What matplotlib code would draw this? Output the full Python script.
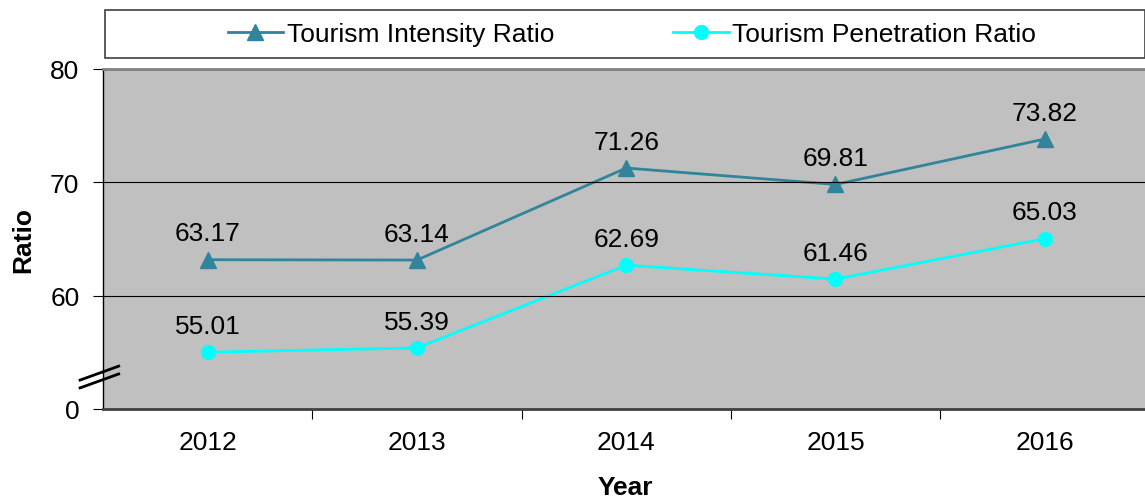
import matplotlib
matplotlib.use("Agg")
import matplotlib.pyplot as plt
from matplotlib.patches import Rectangle

plt.rcParams['font.family'] = ['Liberation Sans', 'DejaVu Sans']

years = ["2012", "2013", "2014", "2015", "2016"]
intensity = [63.17, 63.14, 71.26, 69.81, 73.82]
penetration = [55.01, 55.39, 62.69, 61.46, 65.03]
ytick_vals = [50, 60, 70, 80]
ytick_labels = ["0", "60", "70", "80"]

fig = plt.figure(figsize=(11.45, 5.02), dpi=100)
ax = fig.add_axes([0.09, 0.1833, 0.912, 0.6773])
ax.set_facecolor("#C0C0C0")

x = list(range(len(years)))
ax.plot(x, intensity, color="#31849B", marker="^", markersize=11, lw=2,
        label="Tourism Intensity Ratio")
ax.plot(x, penetration, color="#00FFFF", marker="o", markersize=10, lw=2,
        label="Tourism Penetration Ratio")

for xi, v in zip(x, intensity):
    ax.annotate("{:.2f}".format(v), (xi, v), xytext=(0, 19), textcoords="offset points",
                ha="center", va="center", fontsize=19)
for xi, v in zip(x, penetration):
    ax.annotate("{:.2f}".format(v), (xi, v), xytext=(0, 19), textcoords="offset points",
                ha="center", va="center", fontsize=19)

ax.set_xlim(-0.5, 4.49)
ax.set_ylim(50, 80)
ax.set_yticks(ytick_vals)
ax.set_yticklabels(ytick_labels, fontsize=19)
ax.set_xticks(x)
ax.set_xticklabels(years, fontsize=19)
ax.set_xticks([0.5, 1.5, 2.5, 3.5], minor=True)
ax.tick_params(axis="x", which="major", length=0, pad=15)
ax.tick_params(axis="x", which="minor", length=7, width=0.8, direction="out")
ax.tick_params(axis="y", length=7, width=0.8, direction="out", pad=10)

for yv in [60, 70]:
    ax.axhline(yv, color="black", lw=0.8)

ax.spines["left"].set_color("black")
ax.spines["left"].set_linewidth(1)
ax.spines["bottom"].set_color("#404040")
ax.spines["bottom"].set_linewidth(2)
ax.spines["top"].set_color("#808080")
ax.spines["top"].set_linewidth(2)
ax.spines["right"].set_visible(False)

# axis break marks
for y0 in [0.085, 0.062]:
    ax.plot([-0.022, 0.015], [y0, y0 + 0.041], transform=ax.transAxes,
            color="black", lw=2, clip_on=False)

ax.set_xlabel("Year", fontsize=19, fontweight="bold", labelpad=15)
ax.set_ylabel("Ratio", fontsize=19, fontweight="bold", labelpad=11)

# legend with its own box
fig.patches.append(Rectangle((105 / 1145, 1 - 59 / 502), 1040 / 1145, 48 / 502,
                             transform=fig.transFigure, facecolor="white",
                             edgecolor="#404040", lw=1.2))
leg = fig.legend(loc="center", bbox_to_anchor=(632 / 1145, 1 - 35 / 502), ncol=2,
                 fontsize=19, frameon=False, handlelength=2.1, handletextpad=0.15,
                 columnspacing=4.5)

fig.savefig("out.png", dpi=100)
